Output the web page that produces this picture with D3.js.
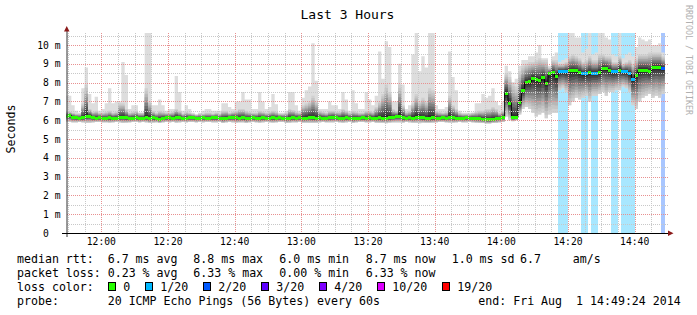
<!DOCTYPE html>
<html>
<head>
<meta charset="utf-8">
<script src="https://cdn.jsdelivr.net/npm/d3@7"></script>
<style>
    body { margin: 0; background: #fff; }
    text { font-family: "DejaVu Sans Mono", monospace; white-space: pre; }
</style>
</head>
<body>
<svg id="chart" width="697" height="315"></svg>
<script>
// one bin per minute, 11:49 .. 14:48
var median = [
    6.22, 6.24, 6.15, 6.12, 6.1, 6.12, 6.2, 6.22, 6.12, 6.1,
    6.12, 6.1, 6.08, 6.12, 6.1, 6.1, 6.12, 6.15, 6.12, 6.1,
    6.1, 6.12, 6.1, 6.1, 6.12, 6.1, 6.12, 6.08, 6.05, 6.1,
    6.12, 6.12, 6.1, 6.15, 6.12, 6.1, 6.1, 6.12, 6.12, 6.1,
    6.1, 6.12, 6.1, 6.1, 6.12, 6.12, 6.1, 6.08, 6.1, 6.12,
    6.15, 6.12, 6.1, 6.12, 6.08, 6.1, 6.12, 6.1, 6.1, 6.12,
    6.1, 6.1, 6.12, 6.1, 6.12, 6.1, 6.08, 6.1, 6.12, 6.1,
    6.12, 6.08, 6.1, 6.15, 6.12, 6.1, 6.12, 6.1, 6.1, 6.12,
    6.15, 6.12, 6.1, 6.1, 6.12, 6.1, 6.08, 6.1, 6.1, 6.12,
    6.1, 6.12, 6.1, 6.1, 6.12, 6.1, 6.1, 6.12, 6.15, 6.2,
    6.2, 6.12, 6.1, 6.12, 6.1, 6.17, 6.17, 6.12, 6.1, 6.1,
    6.12, 6.1, 6.1, 6.12, 6.1, 6.15, 6.12, 6.1, 6.1, 6.1,
    6.12, 6.1, 6.1, 6.08, 6.08, 6.05, 6.03, 6.03, 6.05, 6.08,
    6.1, 6.15, 7.43, 6.9, 6.13, 6.13, 6.95, 7.6, 8.0, 8.05,
    8.23, 8.15, 8.1, 8.28, 7.98, 8.46, 8.53, 8.32, 8.58, 8.58,
    8.58, 8.63, 8.63, 8.62, 8.53, 8.46, 8.46, 8.53, 8.5, 8.5,
    8.53, 8.76, 8.76, 8.64, 8.58, 8.58, 8.67, 8.58, 8.58, 8.46,
    8.17, 8.4, 8.67, 8.67, 8.67, 8.58, 8.81, 8.81, 8.81, 8.76
];

var smokeLow = [
    5.9, 5.9, 5.88, 5.88, 5.9, 5.88, 5.85, 5.85, 5.88, 5.9,
    5.9, 5.88, 5.88, 5.86, 5.88, 5.9, 5.88, 5.85, 5.86, 5.88,
    5.9, 5.9, 5.88, 5.9, 5.88, 5.85, 5.86, 5.88, 5.85, 5.88,
    5.9, 5.88, 5.9, 5.86, 5.88, 5.9, 5.88, 5.9, 5.9, 5.88,
    5.9, 5.88, 5.9, 5.9, 5.88, 5.88, 5.9, 5.85, 5.88, 5.9,
    5.88, 5.86, 5.88, 5.88, 5.85, 5.88, 5.9, 5.88, 5.86, 5.88,
    5.9, 5.88, 5.86, 5.88, 5.9, 5.9, 5.85, 5.86, 5.88, 5.88,
    5.9, 5.86, 5.86, 5.85, 5.85, 5.86, 5.88, 5.9, 5.88, 5.88,
    5.88, 5.9, 5.88, 5.86, 5.88, 5.9, 5.85, 5.88, 5.9, 5.9,
    5.88, 5.88, 5.9, 5.86, 5.85, 5.85, 5.84, 5.86, 5.88, 5.88,
    5.88, 5.86, 5.9, 5.88, 5.86, 5.85, 5.84, 5.86, 5.85, 5.85,
    5.86, 5.88, 5.9, 5.9, 5.88, 5.86, 5.86, 5.88, 5.9, 5.88,
    5.88, 5.9, 5.88, 5.86, 5.85, 5.85, 5.82, 5.82, 5.85, 5.85,
    5.88, 5.9, 6.2, 6.0, 5.95, 6.0, 6.3, 6.6, 6.7, 6.6,
    6.4, 6.2, 6.3, 6.4, 6.1, 6.3, 6.4, 6.4, 7.6, 7.7,
    7.5, 6.8, 7.0, 7.2, 7.1, 7.2, 7.3, 7.0, 7.3, 7.3,
    7.4, 7.5, 7.3, 7.5, 7.5, 7.6, 7.6, 7.8, 7.7, 7.5,
    6.8, 6.6, 7.0, 7.2, 7.3, 7.4, 7.2, 7.3, 7.2, 7.4
];

var smokeUpper = [
    6.5, 6.45, 6.4, 6.35, 6.35, 6.9, 7.9, 6.6, 6.45, 6.5,
    6.4, 6.4, 6.45, 6.5, 6.4, 6.45, 6.9, 6.9, 6.6, 6.4,
    6.45, 6.5, 6.4, 6.4, 7.7, 7.0, 6.5, 6.4, 6.5, 6.45,
    6.4, 6.4, 6.45, 6.6, 6.5, 6.35, 6.45, 6.4, 6.35, 6.3,
    6.35, 6.35, 6.4, 6.4, 6.35, 6.4, 6.35, 6.5, 6.5, 6.4,
    6.45, 6.5, 6.6, 6.6, 6.5, 6.45, 6.4, 6.4, 6.5, 6.45,
    6.4, 6.45, 6.5, 6.45, 6.35, 6.35, 6.4, 6.6, 6.55, 6.45,
    6.4, 6.8, 6.9, 7.0, 7.3, 7.0, 6.5, 6.45, 6.4, 6.5,
    6.5, 6.45, 6.45, 6.6, 6.5, 6.4, 6.5, 6.45, 6.4, 6.4,
    6.5, 6.5, 6.45, 6.7, 7.0, 7.4, 7.9, 7.5, 6.6, 6.5,
    7.9, 6.8, 6.45, 6.5, 6.9, 7.4, 7.0, 7.2, 7.0, 7.7,
    7.6, 6.5, 6.45, 6.4, 6.45, 7.3, 6.8, 6.6, 6.4, 6.35,
    6.35, 6.35, 6.4, 6.45, 6.5, 6.5, 6.6, 6.6, 6.7, 6.6,
    6.4, 6.5, 8.5, 8.3, 8.0, 7.8, 8.6, 8.9, 9.0, 9.1,
    9.1, 9.2, 9.3, 9.2, 9.2, 8.8, 9.2, 9.2, 9.0, 9.0,
    9.1, 9.4, 9.5, 9.4, 9.3, 9.1, 9.2, 9.4, 9.2, 9.2,
    9.5, 9.5, 9.4, 9.4, 9.1, 9.1, 9.4, 9.0, 9.1, 9.2,
    9.0, 9.3, 9.5, 9.5, 9.5, 9.6, 9.6, 9.6, 9.6, 9.4
];

var smokeMax = [
    7.3, 7.3, 6.8, 6.5, 6.4, 7.7, 8.8, 7.4, 6.9, 7.25,
    6.5, 6.6, 6.9, 7.7, 6.9, 7.0, 7.0, 9.1, 8.4, 6.6,
    6.8, 6.8, 6.4, 6.4, 10.64, 10.64, 6.8, 6.8, 7.1, 6.8,
    6.5, 6.6, 6.6, 8.35, 7.5, 6.5, 6.8, 6.6, 6.4, 6.3,
    6.4, 6.5, 6.6, 6.6, 6.5, 6.5, 6.5, 6.9, 6.9, 6.7,
    6.6, 7.0, 7.0, 7.5, 7.1, 7.1, 6.6, 6.6, 7.5, 7.0,
    6.6, 6.7, 7.4, 6.85, 6.4, 6.4, 6.5, 7.5, 7.5, 6.8,
    6.5, 7.2, 7.6, 7.8, 10.1, 8.1, 6.6, 6.6, 6.6, 7.0,
    6.8, 6.8, 6.6, 7.5, 7.1, 6.5, 7.6, 6.9, 6.6, 6.6,
    7.5, 7.1, 6.8, 7.3, 9.65, 8.2, 10.2, 9.9, 7.0, 7.0,
    9.0, 7.9, 6.6, 6.8, 9.5, 10.64, 8.6, 9.4, 8.8, 10.64,
    10.64, 6.8, 6.6, 6.6, 6.7, 9.65, 8.3, 7.6, 6.5, 6.4,
    6.4, 6.4, 6.4, 6.9, 6.9, 7.4, 7.2, 7.3, 7.7, 7.0,
    6.8, 7.0, 8.9, 8.6, 8.0, 8.2, 8.9, 9.2, 9.2, 9.4,
    9.4, 9.6, 10.0, 9.3, 9.3, 8.9, 9.4, 9.6, 9.1, 9.2,
    9.3, 10.64, 10.64, 10.4, 10.4, 9.6, 9.8, 10.64, 9.5, 9.6,
    10.64, 10.64, 10.4, 10.3, 9.5, 9.4, 10.64, 9.3, 9.5, 9.6,
    9.4, 9.9, 10.4, 10.3, 10.2, 10.3, 10.0, 10.0, 10.1, 9.6
];

// lost pings out of 20
var lossPings = [
    0, 0, 0, 0, 0, 0, 0, 0, 0, 0, 0, 0, 0, 0, 0, 0, 0, 0, 0, 0,
    0, 0, 0, 0, 0, 0, 0, 0, 0, 0, 0, 0, 0, 0, 0, 0, 0, 0, 0, 0,
    0, 0, 0, 0, 0, 0, 0, 0, 0, 0, 0, 0, 0, 0, 0, 0, 0, 0, 0, 0,
    0, 0, 0, 0, 0, 0, 0, 0, 0, 0, 0, 0, 0, 0, 0, 0, 0, 0, 0, 0,
    0, 0, 0, 0, 0, 0, 0, 0, 0, 0, 0, 0, 0, 0, 0, 0, 0, 0, 0, 0,
    0, 0, 0, 0, 0, 0, 0, 0, 0, 0, 0, 0, 0, 0, 0, 0, 0, 0, 0, 0,
    0, 0, 0, 0, 0, 0, 0, 0, 0, 0, 0, 0, 0, 0, 0, 0, 0, 0, 0, 0,
    0, 0, 0, 0, 0, 0, 0, 0, 1, 1, 1, 0, 0, 0, 0, 1, 1, 0, 1, 1,
    0, 0, 0, 0, 1, 1, 0, 1, 1, 1, 1, 0, 0, 0, 0, 0, 0, 0, 0, 2
];

var yTickValues = [0, 1, 2, 3, 4, 5, 6, 7, 8, 9, 10];
var xTickLabels = ['12:00', '12:20', '12:40', '13:00', '13:20', '13:40', '14:00', '14:20', '14:40'];

var lossSteps = [0, 1, 2, 3, 4, 10, 19];
var lossLabels = ['0', '1/20', '2/20', '3/20', '4/20', '10/20', '19/20'];
var lossColors = ['#26ff00', '#00b8ff', '#0059ff', '#5e00ff', '#7e00ff', '#dd00ff', '#ff0000'];

var rttLegend = ['median rtt:', '6.7 ms avg', '8.8 ms max', '6.0 ms min', '8.7 ms now', '1.0 ms sd', '6.7', 'am/s'];
var lossLegend = ['packet loss:', '0.23 % avg', '6.33 % max', '0.00 % min', '6.33 % now'];
var probeLegend = ['probe:', '20 ICMP Echo Pings (56 Bytes) every 60s', 'end: Fri Aug  1 14:49:24 2014'];

// layout
var legendCols = [17, 107.7, 193.3, 279.3, 365.7, 451.7, 520, 572.7];
var legendBase = 262.8;
var legendStep = 14;

var svg = d3.select('#chart');

var day = function (h, m, s) {
    return new Date(2014, 7, 1, h, m, s || 0);
};

var x = d3.scaleTime()
    .domain([day(11, 49, 24), day(14, 49, 24)])
    .range([66, 666]);

var y = d3.scaleLinear()
    .domain([0, 10.64])
    .range([233, 33]);

var lossColor = function (n) {
    var c = lossColors[0];
    lossSteps.forEach(function (s, i) {
        if (n >= s) c = lossColors[i];
    });
    return c;
};

var bins = median.map(function (v, i) {
    return {
        t0: day(11, 49 + i),
        t1: day(11, 50 + i),
        med: v,
        lo: smokeLow[i],
        up: smokeUpper[i],
        hi: smokeMax[i],
        loss: lossPings[i]
    };
});
var last = bins[bins.length - 1];
var steps = bins.concat([Object.assign({}, last, { t0: last.t1 })]);

// background
svg.append('rect')
    .attr('width', 697)
    .attr('height', 315)
    .attr('fill', '#fff');

svg.append('defs')
    .append('clipPath')
    .attr('id', 'plotClip')
    .append('rect')
    .attr('x', 66.5)
    .attr('y', 33)
    .attr('width', 600)
    .attr('height', 200);

var plot = svg.append('g')
    .attr('clip-path', 'url(#plotClip)');

// loss background
plot.selectAll('rect.lossbg')
    .data(bins.filter(function (d) { return d.loss > 0; }))
    .enter()
    .append('rect')
    .attr('class', 'lossbg')
    .attr('x', function (d) { return x(d.t0); })
    .attr('width', function (d) { return x(d.t1) - x(d.t0); })
    .attr('y', 33)
    .attr('height', 200)
    .attr('fill', function (d) { return lossColor(d.loss); })
    .attr('fill-opacity', 0.34)
    .attr('shape-rendering', 'crispEdges');

// smoke: outer spikes
plot.append('path')
    .datum(steps)
    .attr('d', d3.area()
        .curve(d3.curveStepAfter)
        .x(function (d) { return x(d.t0); })
        .y0(function (d) { return y(d.lo); })
        .y1(function (d) { return y(d.hi); }))
    .attr('fill', '#dddddd');

// smoke: layers towards the median
var layers = 10;
d3.range(layers).forEach(function (i) {
    var f = i / layers;
    var g = Math.round(208 - 165 * Math.pow(i / (layers - 1), 1.25));
    plot.append('path')
        .datum(steps)
        .attr('d', d3.area()
            .curve(d3.curveStepAfter)
            .x(function (d) { return x(d.t0); })
            .y0(function (d) { return y(d.lo + (d.med - d.lo) * f); })
            .y1(function (d) { return y(d.up - (d.up - d.med) * f); }))
        .attr('fill', d3.rgb(g, g, g));
});

// grid
var grid = svg.append('g');
var minorX = d3.timeMinute.every(5).range(day(11, 50), day(14, 49, 30));
grid.selectAll('line.vx')
    .data(minorX)
    .enter()
    .append('line')
    .attr('x1', function (d) { return Math.round(x(d)) + 0.5; })
    .attr('x2', function (d) { return Math.round(x(d)) + 0.5; })
    .attr('y1', 33)
    .attr('y2', 233)
    .attr('stroke', function (d) { return d.getMinutes() % 20 === 0 ? '#e89090' : '#c8c8c8'; })
    .attr('stroke-dasharray', '1,1');

var gridY = d3.range(1, 22).map(function (i) { return i / 2; });
grid.selectAll('line.hy')
    .data(gridY)
    .enter()
    .append('line')
    .attr('x1', 67)
    .attr('x2', 668)
    .attr('y1', function (d) { return Math.round(y(d)) + 0.5; })
    .attr('y2', function (d) { return Math.round(y(d)) + 0.5; })
    .attr('stroke', function (d) { return d % 1 === 0 ? '#e89090' : '#c8c8c8'; })
    .attr('stroke-dasharray', '1,1');

// median line
plot.append('path')
    .datum(steps)
    .attr('d', d3.line()
        .curve(d3.curveStepAfter)
        .x(function (d) { return x(d.t0); })
        .y(function (d) { return y(d.med); }))
    .attr('fill', 'none')
    .attr('stroke', '#000')
    .attr('stroke-width', 1);

plot.selectAll('rect.med')
    .data(bins)
    .enter()
    .append('rect')
    .attr('class', 'med')
    .attr('x', function (d) { return x(d.t0); })
    .attr('width', function (d) { return x(d.t1) - x(d.t0); })
    .attr('y', function (d) { return y(d.med) - 1.5; })
    .attr('height', 3)
    .attr('fill', function (d) { return lossColor(d.loss); })
    .attr('shape-rendering', 'crispEdges');

// axes
svg.append('line')
    .attr('x1', 67)
    .attr('x2', 67)
    .attr('y1', 237)
    .attr('y2', 30)
    .attr('stroke', '#333');

svg.append('line')
    .attr('x1', 62)
    .attr('x2', 669)
    .attr('y1', 233.5)
    .attr('y2', 233.5)
    .attr('stroke', '#000');

svg.append('path')
    .attr('d', 'M64,31.5 L69.5,31.5 L66.75,26 Z')
    .attr('fill', '#8b1a1a');

svg.append('path')
    .attr('d', 'M668,230.5 L668,236 L673.5,233.25 Z')
    .attr('fill', '#8b1a1a');

// y tick labels
svg.selectAll('text.ylab')
    .data(yTickValues)
    .enter()
    .append('text')
    .attr('x', 60.5)
    .attr('y', function (d) { return y(d) + 3.5; })
    .attr('text-anchor', 'end')
    .attr('xml:space', 'preserve')
    .attr('font-size', '9.7px')
    .attr('fill', '#000')
    .text(function (d) { return d === 0 ? '0  ' : d + ' m'; });

// x tick labels
svg.selectAll('text.xlab')
    .data(xTickLabels)
    .enter()
    .append('text')
    .attr('x', function (d) {
        var p = d.split(':');
        return x(day(+p[0], +p[1]));
    })
    .attr('y', 244.5)
    .attr('text-anchor', 'middle')
    .attr('font-size', '9.7px')
    .attr('fill', '#000')
    .text(function (d) { return d; });

// titles
svg.append('text')
    .attr('x', 347.5)
    .attr('y', 18.5)
    .attr('text-anchor', 'middle')
    .attr('font-size', '13px')
    .attr('fill', '#000')
    .text('Last 3 Hours');

svg.append('text')
    .attr('transform', 'translate(14.5,129) rotate(-90)')
    .attr('text-anchor', 'middle')
    .attr('font-size', '11.6px')
    .attr('fill', '#000')
    .text('Seconds');

svg.append('text')
    .attr('transform', 'translate(685.5,5) rotate(90)')
    .attr('font-size', '8.3px')
    .attr('fill', '#b0b0b0')
    .text('RRDTOOL / TOBI OETIKER');

// legend
var legend = svg.append('g')
    .attr('font-size', '11.6px')
    .attr('fill', '#000');

var textRow = function (items, row, cols) {
    items.forEach(function (t, i) {
        legend.append('text')
            .attr('x', cols[i])
            .attr('y', legendBase + row * legendStep)
            .attr('xml:space', 'preserve')
            .text(t);
    });
};

textRow(rttLegend, 0, legendCols);
textRow(lossLegend, 1, legendCols);
textRow(['loss color:'], 2, legendCols);
textRow(probeLegend, 3, [17, 107.7, 478.3]);

var bx = 108.3;
lossLabels.forEach(function (label, i) {
    legend.append('rect')
        .attr('x', Math.round(bx) + 0.5)
        .attr('y', 282.5)
        .attr('width', 7)
        .attr('height', 8)
        .attr('fill', lossColors[i])
        .attr('stroke', '#000');
    legend.append('text')
        .attr('x', bx + 15)
        .attr('y', legendBase + 2 * legendStep)
        .text(label);
    bx += 30 + label.length * 7;
});
</script>
</body>
</html>
